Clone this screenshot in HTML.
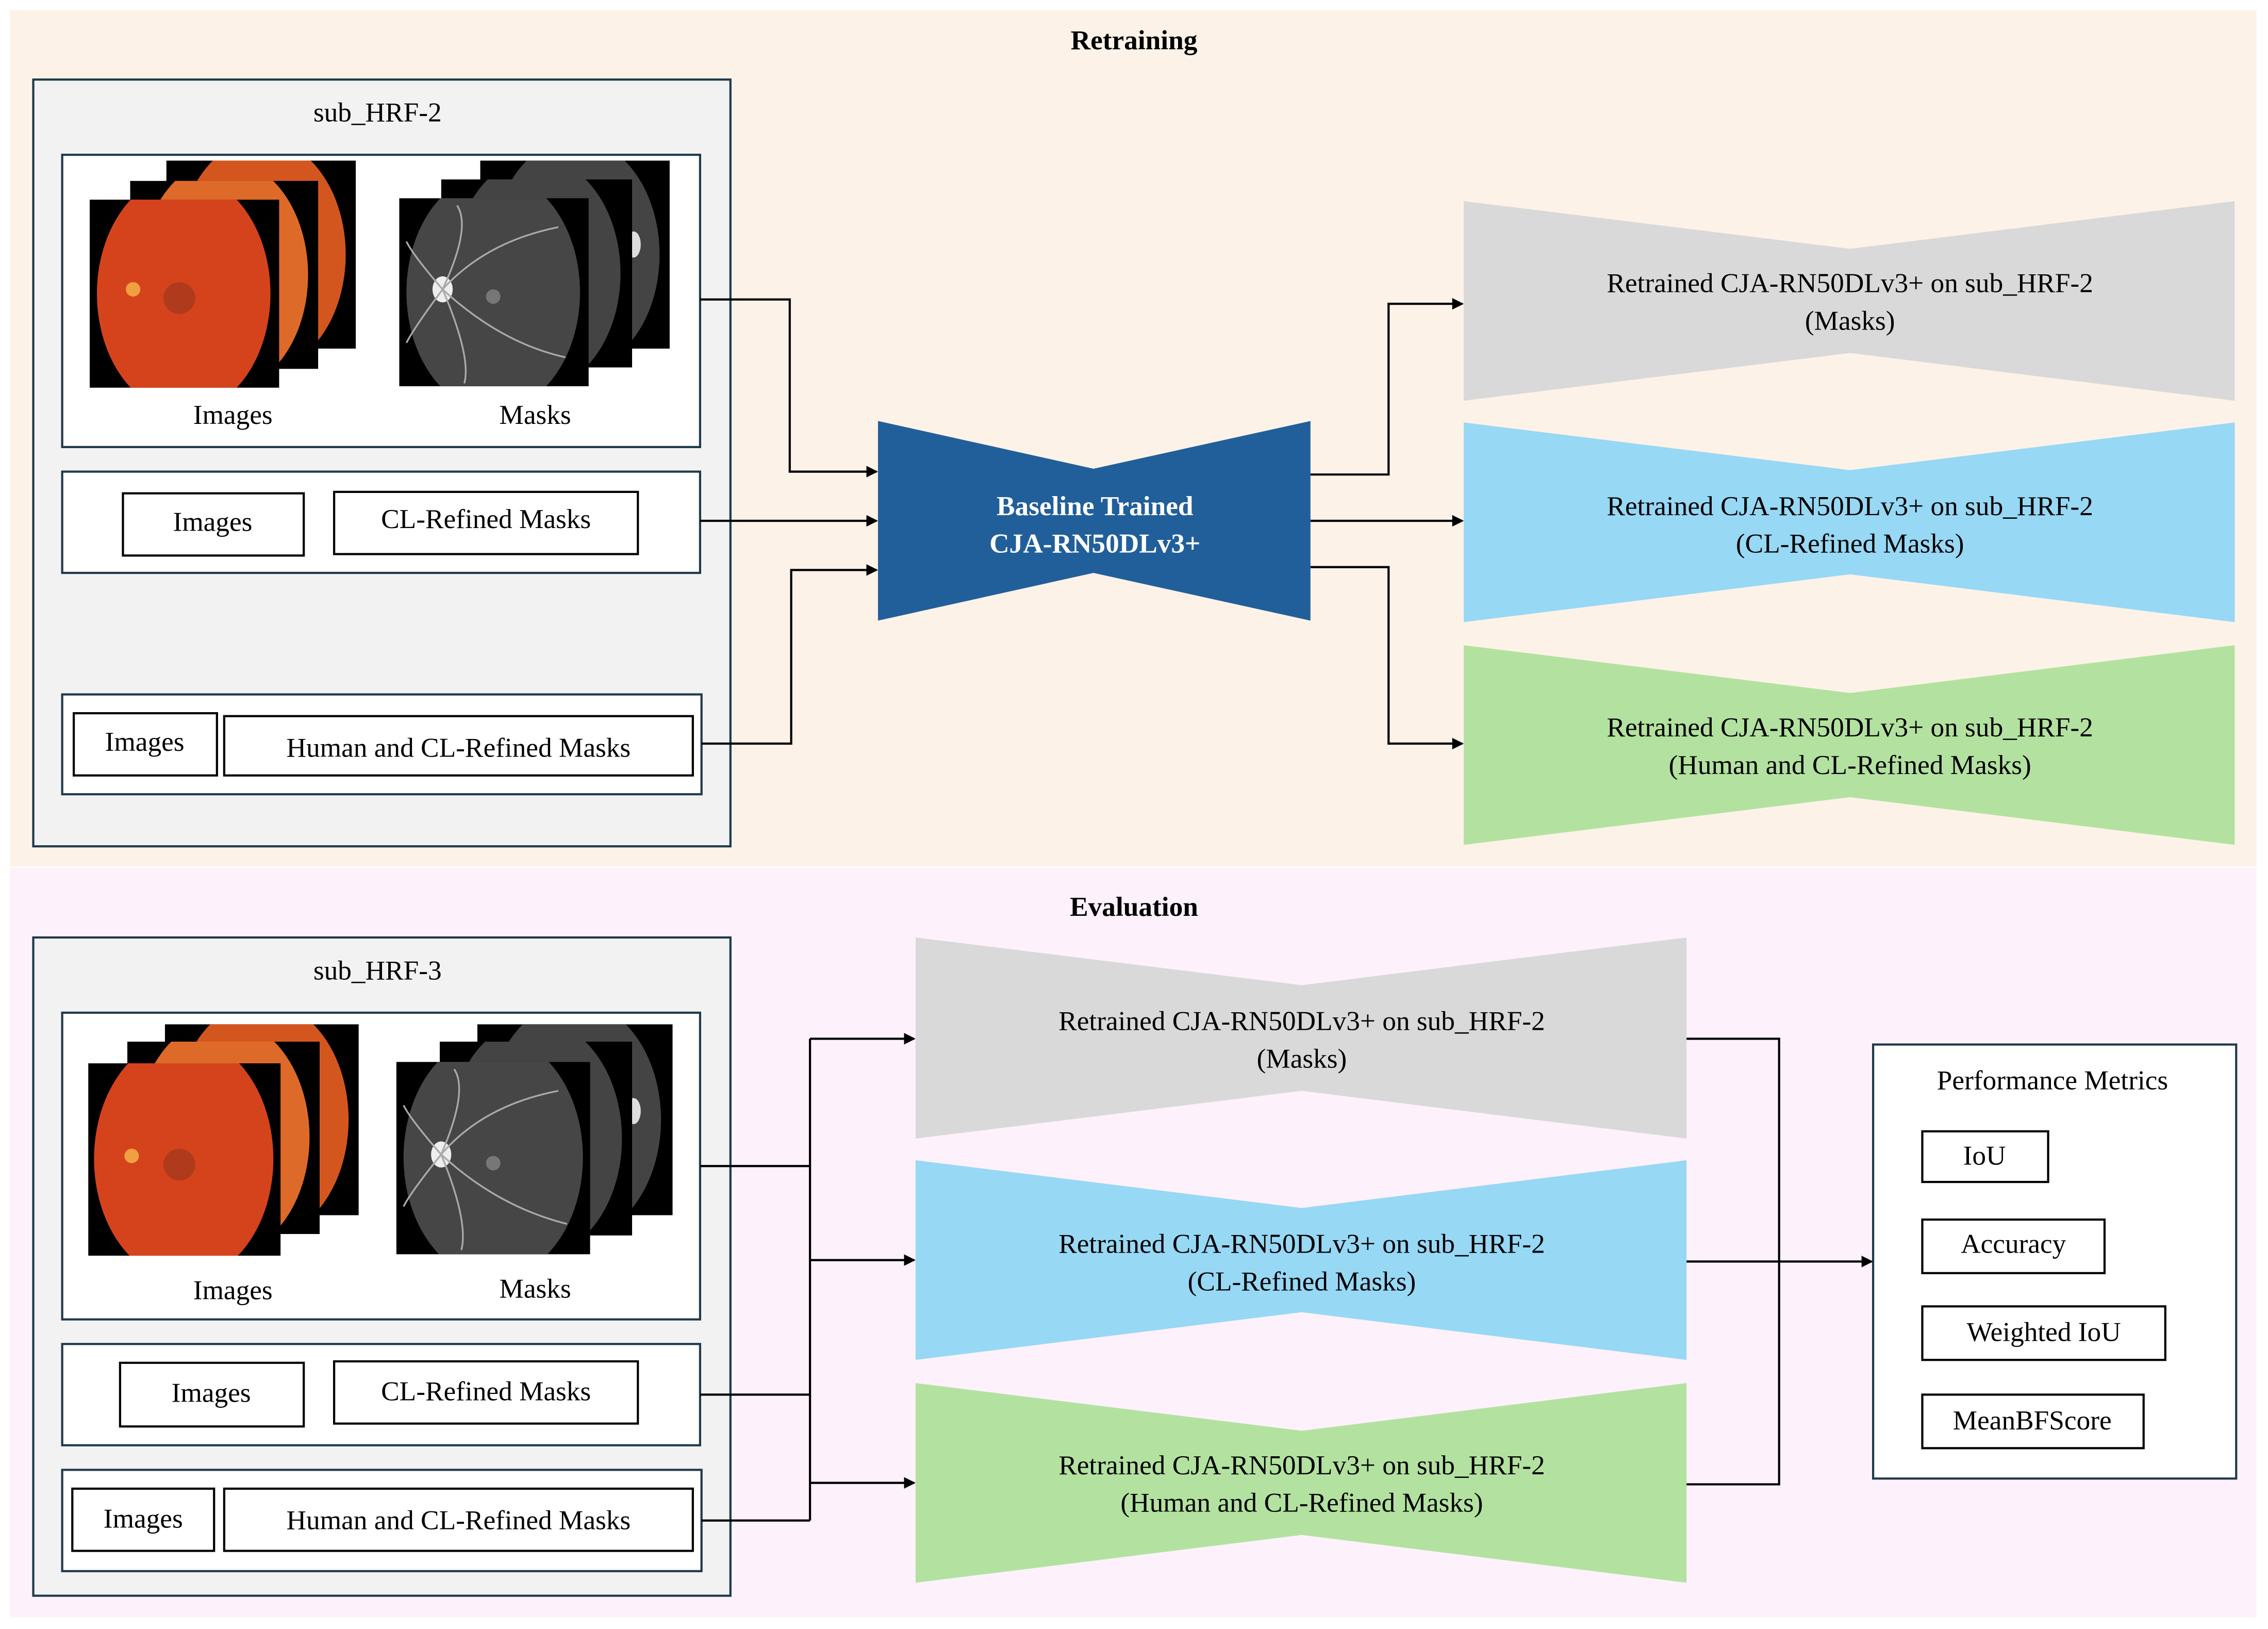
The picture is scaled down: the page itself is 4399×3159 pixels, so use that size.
<!DOCTYPE html>
<html><head><meta charset="utf-8"><style>html,body{margin:0;padding:0;background:#fff}svg{display:block}</style></head><body>
<svg width="4399" height="3159" viewBox="0 0 1568 1126" preserveAspectRatio="none" xmlns="http://www.w3.org/2000/svg" font-family="'Liberation Serif', serif" font-size="19">
<defs>
<marker id="ar" markerWidth="8" markerHeight="8" refX="7" refY="4" orient="auto" markerUnits="userSpaceOnUse"><path d="M0,0 L8,4 L0,8 z" fill="#000"/></marker>
</defs>
<rect x="0" y="0" width="1568" height="1126" fill="#fff"/>
<rect x="7" y="7" width="1553" height="592" fill="#fcf2e8"/>
<rect x="7" y="600" width="1553" height="518" fill="#fdf1fc"/>
<text x="784" y="34" text-anchor="middle" font-weight="bold">Retraining</text>
<text x="784" y="633" text-anchor="middle" font-weight="bold">Evaluation</text>

<g stroke="#1f3a4a" stroke-width="1.5">
<rect x="23" y="55" width="482" height="530" fill="#f2f2f2"/>
<rect x="43" y="107" width="441" height="202" fill="#fff"/>
<rect x="43" y="326" width="441" height="70" fill="#fff"/>
<rect x="43" y="480" width="442" height="69" fill="#fff"/>
<rect x="23" y="648" width="482" height="455" fill="#f2f2f2"/>
<rect x="43" y="700" width="441" height="212" fill="#fff"/>
<rect x="43" y="929" width="441" height="70" fill="#fff"/>
<rect x="43" y="1016" width="442" height="70" fill="#fff"/>
<rect x="1295" y="722" width="251" height="300" fill="#fff"/>
</g>
<g stroke="#000" stroke-width="1.5" fill="#fff">
<rect x="85" y="341" width="125" height="43"/><rect x="231" y="340" width="210" height="43"/>
<rect x="51" y="493" width="99" height="43"/><rect x="155" y="495" width="324" height="41"/>
<rect x="83" y="942" width="127" height="44"/><rect x="231" y="941" width="210" height="43"/>
<rect x="50" y="1029" width="98" height="43"/><rect x="155" y="1029" width="324" height="43"/>
<rect x="1329" y="782" width="87" height="35"/><rect x="1329" y="843" width="126" height="37"/>
<rect x="1329" y="903" width="168" height="37"/><rect x="1329" y="964" width="153" height="37"/>
</g>
<text x="261" y="84" text-anchor="middle">sub_HRF-2</text>
<text x="261" y="677" text-anchor="middle">sub_HRF-3</text>
<g text-anchor="middle">
<text x="161" y="293">Images</text><text x="370" y="293">Masks</text>
<text x="147" y="367">Images</text><text x="336" y="365">CL-Refined Masks</text>
<text x="100" y="519">Images</text><text x="317" y="523">Human and CL-Refined Masks</text>
<text x="161" y="898">Images</text><text x="370" y="897">Masks</text>
<text x="146" y="969">Images</text><text x="336" y="968">CL-Refined Masks</text>
<text x="99" y="1056">Images</text><text x="317" y="1057">Human and CL-Refined Masks</text>
<text x="1419" y="753">Performance Metrics</text>
<text x="1372" y="805">IoU</text><text x="1392" y="866">Accuracy</text>
<text x="1413" y="927">Weighted IoU</text><text x="1405" y="988">MeanBFScore</text>
</g>

<!-- fundus stacks (nested svg clips) -->
<svg x="115" y="111" width="131" height="130"><rect width="131" height="130" fill="#000"/><ellipse cx="66" cy="65" rx="58" ry="80" fill="#d4561f"/></svg>
<svg x="90" y="125" width="130" height="130"><rect width="130" height="130" fill="#000"/><ellipse cx="65" cy="65" rx="58" ry="80" fill="#de6a2a"/></svg>
<svg x="62" y="138" width="131" height="130"><rect width="131" height="130" fill="#000"/><ellipse cx="65" cy="65" rx="60" ry="82" fill="#d5431c"/><circle cx="30" cy="62" r="5" fill="#f0a040"/><circle cx="62" cy="68" r="11" fill="#b03a1c"/></svg>
<svg x="332" y="111" width="131" height="130"><rect width="131" height="130" fill="#000"/><ellipse cx="66" cy="65" rx="58" ry="80" fill="#444"/><ellipse cx="106" cy="58" rx="5" ry="9" fill="#ddd"/></svg>
<svg x="305" y="124" width="132" height="130"><rect width="132" height="130" fill="#000"/><ellipse cx="66" cy="65" rx="58" ry="80" fill="#444"/></svg>
<svg x="276" y="137" width="131" height="130"><rect width="131" height="130" fill="#000"/><ellipse cx="65" cy="65" rx="60" ry="82" fill="#464646"/><ellipse cx="30" cy="63" rx="7" ry="9" fill="#eee"/><circle cx="65" cy="68" r="5" fill="#777"/><path d="M30 63 Q60 30 110 20 M30 63 Q70 100 115 110 M30 63 Q50 20 40 5 M30 63 Q50 110 45 128 M30 63 Q10 40 5 30 M30 63 Q10 90 5 100" stroke="#aaa" stroke-width="1.2" fill="none"/></svg>

<svg x="114" y="708" width="134" height="132"><rect width="134" height="132" fill="#000"/><ellipse cx="67" cy="66" rx="60" ry="82" fill="#d4561f"/></svg>
<svg x="88" y="720" width="133" height="133"><rect width="133" height="133" fill="#000"/><ellipse cx="66" cy="66" rx="60" ry="82" fill="#de6a2a"/></svg>
<svg x="61" y="735" width="133" height="133"><rect width="133" height="133" fill="#000"/><ellipse cx="66" cy="66" rx="62" ry="84" fill="#d5431c"/><circle cx="30" cy="64" r="5" fill="#f0a040"/><circle cx="63" cy="70" r="11" fill="#b03a1c"/></svg>
<svg x="330" y="708" width="135" height="132"><rect width="135" height="132" fill="#000"/><ellipse cx="67" cy="66" rx="60" ry="82" fill="#444"/><ellipse cx="108" cy="60" rx="5" ry="9" fill="#ddd"/></svg>
<svg x="304" y="720" width="133" height="134"><rect width="133" height="134" fill="#000"/><ellipse cx="66" cy="67" rx="60" ry="82" fill="#444"/></svg>
<svg x="274" y="734" width="134" height="133"><rect width="134" height="133" fill="#000"/><ellipse cx="67" cy="66" rx="62" ry="84" fill="#464646"/><ellipse cx="31" cy="64" rx="7" ry="9" fill="#eee"/><circle cx="67" cy="70" r="5" fill="#777"/><path d="M31 64 Q60 30 112 20 M31 64 Q70 100 118 112 M31 64 Q50 20 40 5 M31 64 Q50 110 45 130 M31 64 Q10 40 5 30 M31 64 Q10 90 5 100" stroke="#aaa" stroke-width="1.2" fill="none"/></svg>

<!-- bowtie shapes -->
<path d="M607 291 L756 324 L906 291 L906 429 L756 396 L607 429 Z" fill="#215f9a"/>
<text x="757" y="356" text-anchor="middle" fill="#fff" font-weight="bold">Baseline Trained</text>
<text x="757" y="382" text-anchor="middle" fill="#fff" font-weight="bold">CJA-RN50DLv3+</text>

<path d="M1012 139 L1279 172 L1545 139 L1545 277 L1279 244 L1012 277 Z" fill="#d9d9d9"/>
<path d="M1012 292 L1279 325 L1545 292 L1545 430 L1279 397 L1012 430 Z" fill="#97d8f5"/>
<path d="M1012 446 L1279 479 L1545 446 L1545 584 L1279 551 L1012 584 Z" fill="#b3e2a0"/>
<path d="M633 648 L900 681 L1166 648 L1166 787 L900 754 L633 787 Z" fill="#d9d9d9"/>
<path d="M633 802 L900 835 L1166 802 L1166 940 L900 907 L633 940 Z" fill="#97d8f5"/>
<path d="M633 956 L900 989 L1166 956 L1166 1094 L900 1061 L633 1094 Z" fill="#b3e2a0"/>
<g text-anchor="middle">
<text x="1279" y="202">Retrained CJA-RN50DLv3+ on sub_HRF-2</text><text x="1279" y="228">(Masks)</text>
<text x="1279" y="356">Retrained CJA-RN50DLv3+ on sub_HRF-2</text><text x="1279" y="382">(CL-Refined Masks)</text>
<text x="1279" y="509">Retrained CJA-RN50DLv3+ on sub_HRF-2</text><text x="1279" y="535">(Human and CL-Refined Masks)</text>
<text x="900" y="712">Retrained CJA-RN50DLv3+ on sub_HRF-2</text><text x="900" y="738">(Masks)</text>
<text x="900" y="866">Retrained CJA-RN50DLv3+ on sub_HRF-2</text><text x="900" y="892">(CL-Refined Masks)</text>
<text x="900" y="1019">Retrained CJA-RN50DLv3+ on sub_HRF-2</text><text x="900" y="1045">(Human and CL-Refined Masks)</text>
</g>

<!-- connectors -->
<g stroke="#000" stroke-width="1.5" fill="none">
<path d="M484 207 H546 V326 H606" marker-end="url(#ar)"/>
<path d="M484 360 H606" marker-end="url(#ar)"/>
<path d="M485 514 H547 V394 H606" marker-end="url(#ar)"/>
<path d="M906 328 H960 V210 H1011" marker-end="url(#ar)"/>
<path d="M906 360 H1011" marker-end="url(#ar)"/>
<path d="M906 392 H960 V514 H1011" marker-end="url(#ar)"/>
<path d="M484 806 H560"/><path d="M484 964 H560"/><path d="M485 1051 H560"/>
<path d="M560 718 V1051"/>
<path d="M560 718 H632" marker-end="url(#ar)"/>
<path d="M560 871 H632" marker-end="url(#ar)"/>
<path d="M560 1025 H632" marker-end="url(#ar)"/>
<path d="M1166 718 H1230 V1026 H1166"/>
<path d="M1166 872 H1230"/>
<path d="M1230 872 H1294" marker-end="url(#ar)"/>
</g>
</svg>
</body></html>
